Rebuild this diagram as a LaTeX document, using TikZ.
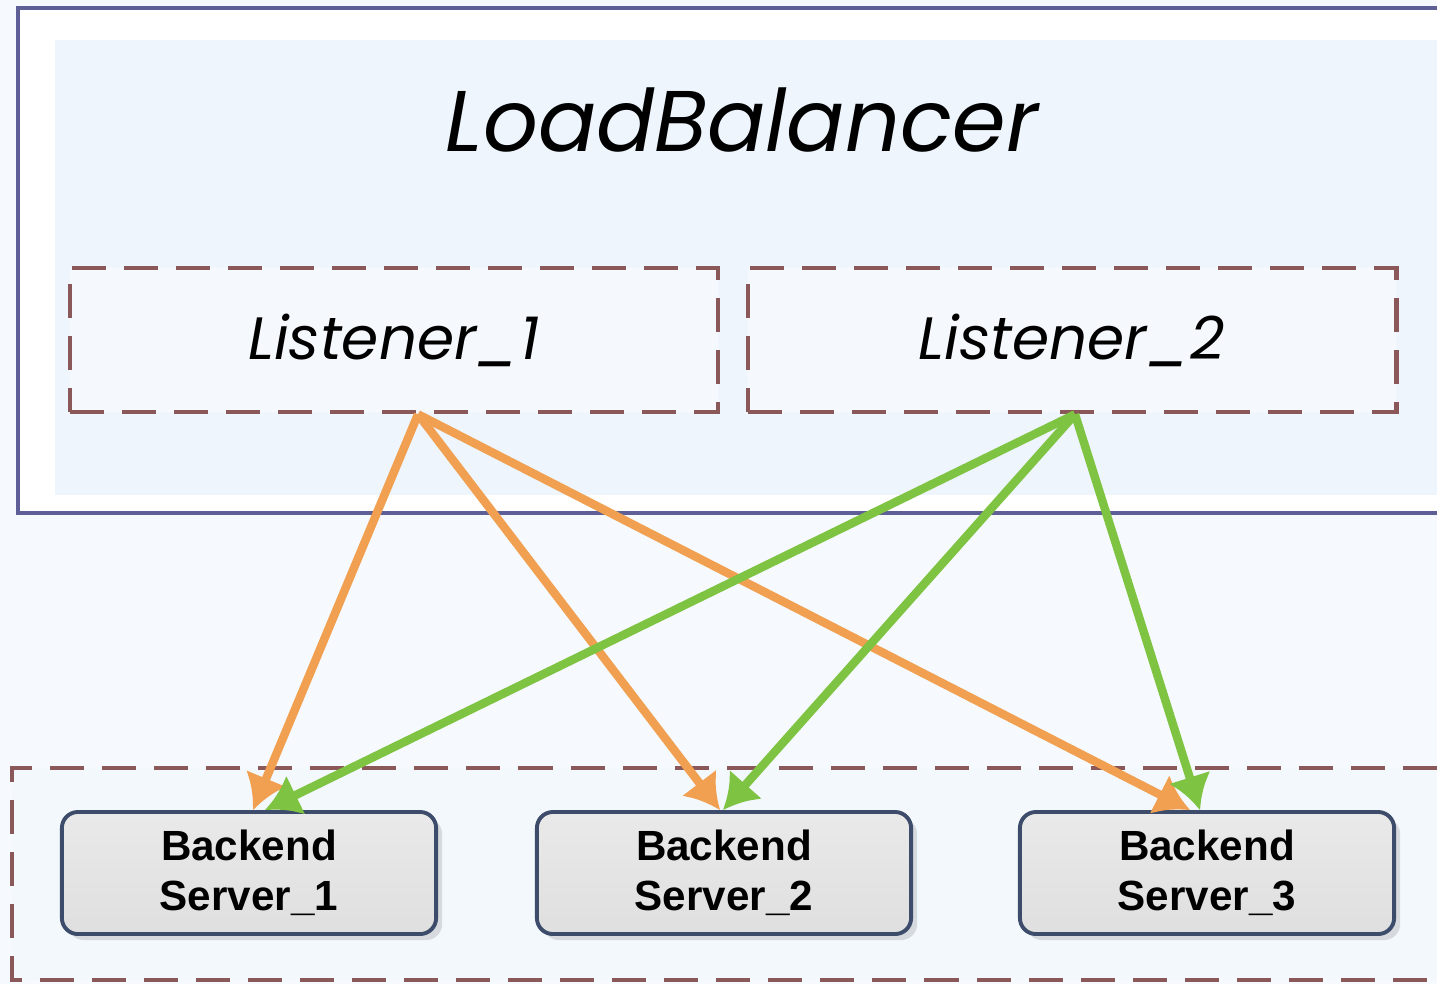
\documentclass[tikz,border=0pt]{standalone}
\usepackage{fontspec}
\setmainfont{Liberation Sans}
\newfontfamily\gothic{Poppins}
\usetikzlibrary{arrows.meta,shadows}

\definecolor{lbframe}{HTML}{5F5F98}
\definecolor{lbfill}{HTML}{EEF5FC}
\definecolor{dashred}{HTML}{8A5858}
\definecolor{serverline}{HTML}{3C4C6A}
\definecolor{orangearrow}{HTML}{F0A050}
\definecolor{greenarrow}{HTML}{7FC342}

\begin{document}
\begin{tikzpicture}[x=0.01cm, y=-0.01cm,
  dashbox/.style={draw=dashred, line width=1.3pt, dash pattern=on 3.4mm off 1.8mm},
  listener/.style={dashbox, fill=lbfill!60!white, minimum width=6.48cm, minimum height=1.44cm, font=\gothic\itshape\fontsize{17}{20}\selectfont},
  server/.style={rectangle, rounded corners=1.6mm, draw=serverline, line width=1.1pt, top color=gray!17, bottom color=gray!25, minimum width=3.74cm, minimum height=1.22cm, align=center, font=\bfseries\fontsize{12}{14.2}\selectfont, drop shadow={shadow xshift=0.6mm, shadow yshift=-0.6mm, opacity=0.25}},
  orangeline/.style={draw=orangearrow, line width=2.4pt, -{Latex[length=3.4mm, width=4.4mm]}},
  greenline/.style={draw=greenarrow, line width=2.4pt, -{Latex[length=3.4mm, width=4.4mm]}}]
\useasboundingbox[fill=lbfill!50!white] (0,0) rectangle (1437,984);
% load balancer frame
\fill[white] (18,8) rectangle (1437,513);
\fill[lbfill] (55,40) rectangle (1437,495);
\draw[lbframe, line width=1.4pt] (1437,8) -- (18,8) -- (18,513) -- (1437,513);
\node[font=\gothic\itshape\fontsize{24.5}{30}\selectfont] at (742,120) (lb) {LoadBalancer};
\node[listener] at (394,340) (l1) {Listener\_1};
\node[listener] at (1072,340) (l2) {Listener\_2};
% backend group
\fill[lbfill!70!white] (12,768) rectangle (1437,980);
\draw[dashbox] (1437,768) -- (12,768) -- (12,980) -- (1437,980);
\node[server] at (249,873) (bs1) {Backend\\Server\_1};
\node[server] at (724,873) (bs2) {Backend\\Server\_2};
\node[server] at (1207,873) (bs3) {Backend\\Server\_3};
\draw[orangeline] ([xshift=0.24cm]l1.south) -- ([xshift=0.04cm]bs1.north);
\draw[orangeline] ([xshift=0.24cm]l1.south) -- ([xshift=-0.04cm]bs2.north);
\draw[orangeline] ([xshift=0.24cm]l1.south) -- ([xshift=-0.17cm]bs3.north);
\draw[greenline] ([xshift=0.03cm]l2.south) -- ([xshift=0.16cm]bs1.north);
\draw[greenline] ([xshift=0.03cm]l2.south) -- ([xshift=-0.01cm]bs2.north);
\draw[greenline] ([xshift=0.03cm]l2.south) -- ([xshift=-0.07cm]bs3.north);
\end{tikzpicture}
\end{document}
